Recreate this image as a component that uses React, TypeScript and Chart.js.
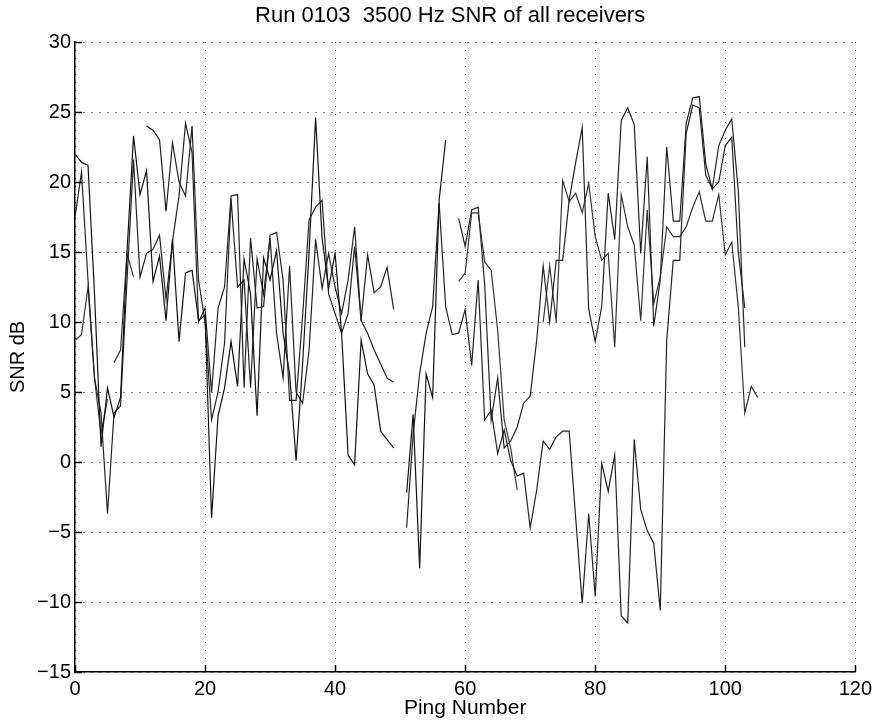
import { useEffect, useRef } from 'react';
import { Chart, registerables } from 'chart.js';

Chart.register(...registerables);

const pings = [
  0, 1, 2, 3, 4, 5, 6, 7, 8, 9, 10, 11, 12, 13, 14, 15, 16, 17, 18, 19,
  20, 21, 22, 23, 24, 25, 26, 27, 28, 29, 30, 31, 32, 33, 34, 35, 36, 37, 38, 39,
  40, 41, 42, 43, 44, 45, 46, 47, 48, 49, 50, 51, 52, 53, 54, 55, 56, 57, 58, 59,
  60, 61, 62, 63, 64, 65, 66, 67, 68, 69, 70, 71, 72, 73, 74, 75, 76, 77, 78, 79,
  80, 81, 82, 83, 84, 85, 86, 87, 88, 89, 90, 91, 92, 93, 94, 95, 96, 97, 98, 99,
  100, 101, 102, 103, 104, 105,
];

const N = null;

const rxA = [
  22, 21.4, 21.2, 12, 1.1, 5.3, 3.2, 4.6, 15, 23.3,
  19.1, 20.8, 12.9, 14.7, 10.1, 15.9, 8.6, 13.5, 13.7, 10.1,
  10.5, -4, 3.3, 5.3, 8.6, 5.4, 14.5, 12, 3.3, 14.6,
  13, 15.1, 9.2, 6.3, 0.1, 7, 15, 24.6, 16, 12.4,
  14.9, 9.2, 0.5, -0.2, 8.7, 6.3, 5.5, 2.2, 1.6, 1.0,
  N, -2.2, 3.4, -7.6, 6.3, 4.6, 18.7, 23, N, N,
  N, N, N, N, N, N, N, N, N, N,
  N, N, N, N, N, N, N, N, N, N,
  N, N, N, N, N, N, N, N, N, N,
  N, N, N, N, N, N, N, N, N, N,
  N, N, N, N, N, N,
];

const rxB = [
  17.5, 20.7, 13, 6, 3.5, -3.7, 3.5, 4, 13, 21.6,
  13.2, 14.9, 15.2, 16.2, 11.6, 15.8, 19, 24.2, 22.1, 10,
  11, 5, 11, 12.5, 19, 19.1, 5.3, 16, 11, 11.1,
  16.2, 16.4, 13, 4.4, 4.4, 10.4, 17.3, 18.2, 18.7, 12,
  10.6, 9.2, 10.6, 15.4, 10.1, 14.8, 12.1, 12.5, 13.9, 10.9,
  N, -4.7, 2, 6.3, 9.2, 11.1, 18.5, 11.1, 9.1, 9.2,
  10.9, 6.9, 13, 3, 3.7, 0.6, 2.3, 0.1, -1, -0.8,
  -4.7, -2, 1.5, 0.9, 1.8, 2.2, 2.2, -4, -10.1, -3.7,
  -9.6, -0.1, -2.1, 0.5, -11, -11.5, 1.6, -3.4, -4.9, -5.8,
  -10.6, 8.7, 14.4, 14.4, 23.5, 25.5, 25.3, 20.5, 19.5, 20,
  22.6, 23.2, 15, 11, N, N,
];

const rxC = [
  8.7, 9.1, 12.5, 6, 2, 4.5, N, N, N, N,
  N, N, N, N, N, N, N, N, N, N,
  N, N, N, N, N, N, N, N, N, N,
  N, N, N, N, N, N, N, N, N, N,
  N, N, N, N, N, N, N, N, N, N,
  N, N, N, N, N, N, N, N, N, 12.9,
  13.5, 17.8, 17.8, 14.3, 13.7, 9.4, 3, 1, -2, N,
  N, N, N, N, N, N, N, N, N, N,
  N, N, N, N, N, N, N, N, N, N,
  N, N, N, N, N, N, N, N, N, N,
  N, N, N, N, N, N,
];

const rxF = [
  N, N, N, N, N, N, 7.1, 8, 14.9, 13.2,
  N, N, N, N, N, N, N, N, N, N,
  N, N, N, N, N, N, N, N, N, N,
  N, N, N, N, N, N, N, N, N, N,
  N, N, N, N, N, N, N, N, N, N,
  N, N, N, N, N, N, N, N, N, N,
  N, N, N, N, N, N, N, N, N, N,
  N, N, N, N, N, N, N, N, N, N,
  N, N, N, N, N, N, N, N, N, N,
  N, N, N, N, N, N, N, N, N, N,
  N, N, N, N, N, N,
];

const rxD = [
  N, N, N, N, N, N, N, N, N, N,
  N, 24, 23.7, 23, 17.9, 22.8, 20, 19, 24, 13,
  10, 3, 5, 8.5, 18.8, 12.5, 13, 5.3, 14.5, 12,
  16, 9.2, 6, 14, 5, 4.2, 8, 15.9, 12.4, 14.9,
  12.5, 10.6, 13, 16.8, 10.1, 9.2, 8, 7, 6, 5.7,
  N, N, N, N, N, N, N, N, N, 17.4,
  15.4, 18, 18.2, 12.7, 3, 6, 1, 1.5, 2.5, 4.2,
  4.7, 8.7, 14, 10, 14.4, 14.4, 18.7, 21.4, 23.9, 10.9,
  8.6, 11.1, 19.2, 15.9, 24.4, 25.3, 24.1, 14.9, 21.8, 9.7,
  13, 22.5, 17.2, 17.2, 24.2, 26, 26.1, 21.3, 19.5, 22.6,
  23.7, 24.5, 19.4, 8.2, N, N,
];

const rxE = [
  N, N, N, N, N, N, N, N, N, N,
  N, N, N, N, N, N, N, N, N, N,
  N, N, N, N, N, N, N, N, N, N,
  N, N, N, N, N, N, N, N, N, N,
  N, N, N, N, N, N, N, N, N, N,
  N, N, N, N, N, N, N, N, N, N,
  N, N, N, N, N, N, N, N, N, N,
  N, N, 10, 14, 10, 20.1, 18.6, 19.2, 17.8, 19.9,
  16.1, 14.4, 14.9, 8.2, 19.1, 16.8, 15.5, 10.1, 18, 11.3,
  13.2, 16.8, 16.1, 16.1, 16.8, 18.2, 19.3, 17.2, 17.2, 19.1,
  14.8, 15.7, 11.1, 3.5, 5.4, 4.6,
];

const series = [
  { label: 'Receiver 1', values: rxA, color: '#111' },
  { label: 'Receiver 2', values: rxB, color: '#222' },
  { label: 'Receiver 3', values: rxC, color: '#333' },
  { label: 'Receiver 3b', values: rxF, color: '#333' },
  { label: 'Receiver 4', values: rxD, color: '#222' },
  { label: 'Receiver 5', values: rxE, color: '#333' },
];

const TITLE = 'Run 0103  3500 Hz SNR of all receivers';
const xTicks = [0, 20, 40, 60, 80, 100, 120];
const yTicks = [-15, -10, -5, 0, 5, 10, 15, 20, 25, 30];

const FONT = '"Liberation Sans", Arial, Helvetica, sans-serif';

const fmt = (v: number) => (v < 0 ? '\u2212' + String(-v) : String(v));

const inwardTicks = {
  id: 'inwardTicks',
  afterDraw(chart: any) {
    const { ctx, chartArea, scales } = chart;
    const x = scales.x;
    const y = scales.y;
    ctx.save();
    ctx.strokeStyle = '#000';
    ctx.lineWidth = 1.5;
    ctx.beginPath();
    xTicks.forEach((v) => {
      const px = Math.round(x.getPixelForValue(v)) + 0.5;
      ctx.moveTo(px, chartArea.bottom);
      ctx.lineTo(px, chartArea.bottom - 7);
    });
    yTicks.forEach((v) => {
      const py = Math.round(y.getPixelForValue(v)) + 0.5;
      ctx.moveTo(chartArea.left, py);
      ctx.lineTo(chartArea.left + 7, py);
    });
    ctx.stroke();
    // title, centred a little left of the axes centre as in the original
    ctx.fillStyle = '#000';
    ctx.font = '22px ' + FONT;
    ctx.textAlign = 'center';
    ctx.textBaseline = 'middle';
    ctx.fillText(TITLE, (chartArea.left + chartArea.right) / 2 - 15, 16);
    ctx.restore();
  },
};

export default function App() {
  const ref = useRef<HTMLCanvasElement>(null);

  useEffect(() => {
    document.body.style.margin = '0';
    const canvas = ref.current;
    if (!canvas) return;
    const chart = new Chart(canvas, {
      type: 'line',
      data: {
        datasets: series.map((s) => ({
          label: s.label,
          data: pings.map((p, i) => ({ x: p, y: s.values[i] })),
          borderColor: s.color,
          borderWidth: 1.2,
          pointRadius: 0,
          tension: 0,
          spanGaps: false,
          fill: false,
        })),
      },
      options: {
        responsive: false,
        animation: false,
        layout: { padding: { left: 0, right: 20, top: 42, bottom: 0 } },
        plugins: {
          legend: { display: false },
          tooltip: { enabled: false },
          title: { display: false },
        },
        scales: {
          x: {
            type: 'linear',
            min: 0,
            max: 120,
            afterFit: (s: any) => { s.height = 53; },
            afterBuildTicks: (s: any) => { s.ticks = xTicks.map((v) => ({ value: v })); },
            ticks: { color: '#000', padding: 5, font: { family: FONT, size: 20 }, callback: (v: any) => fmt(Number(v)) },
            grid: { color: '#000', lineWidth: 1, drawTicks: false },
            border: { display: true, color: '#000', width: 1.5, dash: [1, 7] } as any,
            title: {
              display: true,
              text: 'Ping Number',
              color: '#000',
              font: { family: FONT, size: 21 },
              padding: { top: 0, bottom: 4 },
            },
          },
          y: {
            type: 'linear',
            min: -15,
            max: 30,
            afterFit: (s: any) => { s.width = 75; },
            afterBuildTicks: (s: any) => { s.ticks = yTicks.map((v) => ({ value: v })); },
            ticks: { color: '#000', padding: 4, font: { family: FONT, size: 20 }, callback: (v: any) => fmt(Number(v)) },
            grid: { color: '#000', lineWidth: 1, drawTicks: false },
            border: { display: true, color: '#000', width: 1.5, dash: [1, 7] } as any,
            title: {
              display: true,
              text: 'SNR dB',
              color: '#000',
              font: { family: FONT, size: 20 },
              padding: { top: 6, bottom: 4 },
            },
          },
        },
      },
      plugins: [inwardTicks],
    });
    return () => chart.destroy();
  }, []);

  return (
    <div style={{ width: 877, height: 725 }}>
      <canvas ref={ref} width={877} height={725} style={{ display: 'block' }} />
    </div>
  );
}
